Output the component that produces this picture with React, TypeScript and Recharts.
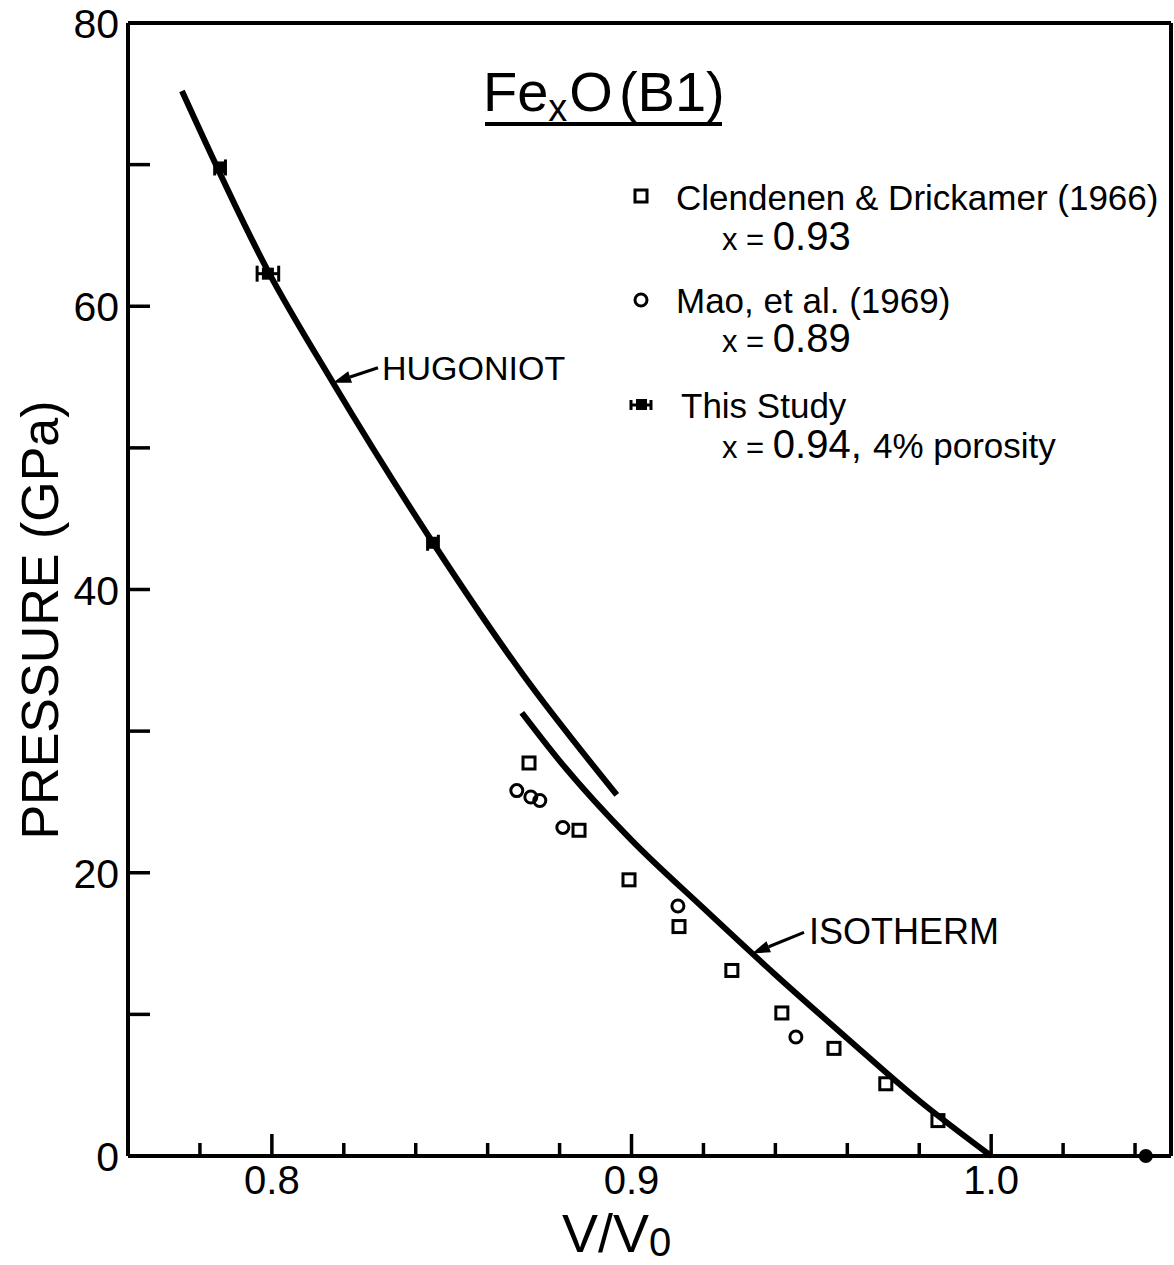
import {
  ComposedChart,
  Line,
  Scatter,
  XAxis,
  YAxis,
  ErrorBar,
  ReferenceDot,
  Customized
} from "recharts";

const FONT = "'Liberation Sans', Arial, sans-serif";

// axis ticks
const xTicks = [0.76, 0.78, 0.8, 0.82, 0.84, 0.86, 0.88, 0.9, 0.92, 0.94, 0.96, 0.98, 1.0, 1.02, 1.04];
const xLabeled = [0.8, 0.9, 1.0];
const yTicks = [0, 10, 20, 30, 40, 50, 60, 70, 80];
const yLabeled = [0, 20, 40, 60, 80];

// Hugoniot curve (V/V0, GPa)
const hugoniotV = [0.775, 0.7989, 0.817, 0.8448, 0.8698, 0.8959];
const hugoniotP = [75.2, 62.5, 54.6, 43.3, 34.0, 25.5];

// isotherm
const isothermV = [0.8695, 0.88, 0.9, 0.92, 0.94, 0.96, 0.98, 1.0];
const isothermP = [31.3, 27.9, 22.3, 17.5, 12.8, 8.3, 3.9, 0];

// Clendenen & Drickamer (1966)
const clendenenV = [0.8715, 0.8854, 0.8993, 0.9132, 0.9279, 0.9418, 0.9563, 0.9707, 0.9852];
const clendenenP = [27.75, 23.0, 19.5, 16.2, 13.1, 10.1, 7.6, 5.1, 2.5];

// Mao, et al. (1969)
const maoV = [0.8681, 0.872, 0.8745, 0.8809, 0.9129, 0.9457];
const maoP = [25.8, 25.35, 25.1, 23.2, 17.65, 8.4];

// This study: shock points with V/V0 error, plus porous starting state
const studyV = [0.7856, 0.7989, 0.8448];
const studyP = [69.8, 62.3, 43.3];
const studyErr = [0.0015, 0.003, 0.0015];
const initialV = [1.043];
const initialP = [0];

// where the curve labels point
const hugoniotLabelAt = { v: 0.817, p: 54.6 };
const isothermLabelAt = { v: 0.9335, p: 14.3 };

const zip = (vs: number[], ps: number[]) => vs.map((v, i) => ({ v, p: ps[i] }));
const hugoniot = zip(hugoniotV, hugoniotP);
const isotherm = zip(isothermV, isothermP);
const clendenen = zip(clendenenV, clendenenP);
const mao = zip(maoV, maoP);
const study = studyV.map((v, i) => ({ v, p: studyP[i], err: studyErr[i] }));
const initial = zip(initialV, initialP);

const near = (a: number, list: number[]) => list.some((b) => Math.abs(a - b) < 1e-6);

const BottomTick = ({ x, y, payload }: any) => {
  const major = near(payload.value, xLabeled);
  return (
    <g>
      <line x1={x} x2={x} y1={y} y2={y - (major ? 22 : 13)} stroke="#000" strokeWidth={3.5} />
      {major && (
        <text x={x} y={y + 38} textAnchor="middle" fontSize={40} fontFamily={FONT} fill="#000">
          {payload.value.toFixed(1)}
        </text>
      )}
    </g>
  );
};

const TopTick = ({ x, y, payload }: any) => {
  const major = near(payload.value, xLabeled);
  return <line x1={x} x2={x} y1={y} y2={y + (major ? 22 : 13)} stroke="#000" strokeWidth={3.5} />;
};

const LeftTick = ({ x, y, payload }: any) => {
  const major = near(payload.value, yLabeled);
  return (
    <g>
      <line x1={x} x2={x + 22} y1={y} y2={y} stroke="#000" strokeWidth={3.5} />
      {major && (
        <text x={x - 9} y={y + 15} textAnchor="end" fontSize={41} fontFamily={FONT} fill="#000">
          {payload.value}
        </text>
      )}
    </g>
  );
};

const RightTick = ({ x, y }: any) => (
  <line x1={x} x2={x - 22} y1={y} y2={y} stroke="#000" strokeWidth={3.5} />
);

const OpenSquare = ({ cx, cy }: any) => (
  <rect x={cx - 6} y={cy - 6} width={12} height={12} fill="none" stroke="#000" strokeWidth={3} />
);
const OpenCircle = ({ cx, cy }: any) => (
  <circle cx={cx} cy={cy} r={6} fill="none" stroke="#000" strokeWidth={3} />
);
const FilledSquare = ({ cx, cy }: any) => (
  <rect x={cx - 6} y={cy - 6} width={12} height={12} fill="#000" />
);
const FilledDot = ({ cx, cy }: any) => <circle cx={cx} cy={cy} r={7} fill="#000" />;

// arrow from a label to a point on the curve
const Arrow = ({ cx, cy, label, tail, text, fontSize }: any) => {
  const [tx, ty] = [cx + tail[0], cy + tail[1]];
  const len = Math.hypot(tx - cx, ty - cy);
  const ux = (tx - cx) / len;
  const uy = (ty - cy) / len;
  const hl = 18;
  const hw = 6;
  const bx = cx + ux * hl;
  const by = cy + uy * hl;
  return (
    <g>
      <line x1={bx} y1={by} x2={tx} y2={ty} stroke="#000" strokeWidth={3} />
      <polygon
        points={`${cx},${cy} ${bx - uy * hw},${by + ux * hw} ${bx + uy * hw},${by - ux * hw}`}
        fill="#000"
      />
      <text x={cx + text[0]} y={cy + text[1]} fontSize={fontSize} fontFamily={FONT} fill="#000">
        {label}
      </text>
    </g>
  );
};

const Decorations = () => (
  <g fontFamily={FONT} fill="#000">
    {/* title */}
    <text x={483} y={111} fontSize={56}>
      Fe<tspan fontSize={38} dy={10}>x</tspan>
      <tspan fontSize={56} dy={-10} dx={2}>O</tspan>
      <tspan fontSize={56} dx={6}>(B1)</tspan>
    </text>
    <line x1={485} x2={722} y1={124} y2={124} stroke="#000" strokeWidth={4} />

    {/* legend */}
    <rect x={635} y={190} width={12} height={12} fill="none" stroke="#000" strokeWidth={3} />
    <text x={676} y={210} fontSize={35}>Clendenen &amp; Drickamer (1966)</text>
    <text x={722} y={250}>
      <tspan fontSize={31}>x = </tspan>
      <tspan fontSize={40}>0.93</tspan>
    </text>

    <circle cx={641} cy={300} r={6} fill="none" stroke="#000" strokeWidth={3} />
    <text x={676} y={313} fontSize={35}>Mao, et al. (1969)</text>
    <text x={722} y={352}>
      <tspan fontSize={31}>x = </tspan>
      <tspan fontSize={40}>0.89</tspan>
    </text>

    <line x1={630} x2={652} y1={405} y2={405} stroke="#000" strokeWidth={3} />
    <line x1={631} x2={631} y1={400} y2={410} stroke="#000" strokeWidth={3} />
    <line x1={651} x2={651} y1={400} y2={410} stroke="#000" strokeWidth={3} />
    <rect x={636} y={399} width={11} height={11} fill="#000" />
    <text x={681} y={418} fontSize={35}>This  Study</text>
    <text x={722} y={458}>
      <tspan fontSize={31}>x = </tspan>
      <tspan fontSize={40}>0.94, </tspan>
      <tspan fontSize={35}>4% porosity</tspan>
    </text>

    {/* axis titles */}
    <text
      x={40}
      y={620}
      fontSize={52}
      textAnchor="middle"
      dominantBaseline="central"
      transform="rotate(-90, 40, 620)"
    >
      PRESSURE (GPa)
    </text>
    <text x={562} y={1252} fontSize={54}>
      V/V<tspan fontSize={40} dy={4}>0</tspan>
    </text>
  </g>
);

export default function App() {
  const axisLine = { stroke: "#000", strokeWidth: 4 };
  return (
    <div style={{ position: "absolute", left: 0, top: 0, background: "#fff" }}>
      <ComposedChart
        width={1174}
        height={1265}
        margin={{ top: 22, right: 2, bottom: 69, left: 68 }}
      >
        <XAxis
          type="number"
          dataKey="v"
          domain={[0.76, 1.05]}
          ticks={xTicks}
          interval={0}
          height={40}
          tickSize={0}
          tickMargin={0}
          tickLine={false}
          axisLine={axisLine}
          tick={<BottomTick />}
        />
        <XAxis
          xAxisId="top"
          orientation="top"
          type="number"
          dataKey="v"
          domain={[0.76, 1.05]}
          ticks={xTicks}
          interval={0}
          height={1}
          tickSize={0}
          tickMargin={0}
          tickLine={false}
          axisLine={axisLine}
          tick={<TopTick />}
        />
        <YAxis
          type="number"
          domain={[0, 80]}
          ticks={yTicks}
          interval={0}
          width={60}
          tickSize={0}
          tickMargin={0}
          tickLine={false}
          axisLine={axisLine}
          tick={<LeftTick />}
        />
        <YAxis
          yAxisId="right"
          orientation="right"
          type="number"
          domain={[0, 80]}
          ticks={yTicks}
          interval={0}
          width={1}
          tickSize={0}
          tickMargin={0}
          tickLine={false}
          axisLine={axisLine}
          tick={<RightTick />}
        />

        <Line
          data={hugoniot}
          dataKey="p"
          type="monotone"
          stroke="#000"
          strokeWidth={6}
          dot={false}
          isAnimationActive={false}
        />
        <Line
          data={isotherm}
          dataKey="p"
          type="monotone"
          stroke="#000"
          strokeWidth={6}
          dot={false}
          isAnimationActive={false}
        />
        <Scatter name="Clendenen & Drickamer (1966)" data={clendenen} dataKey="p" shape={<OpenSquare />} isAnimationActive={false} />
        <Scatter name="Mao, et al. (1969)" data={mao} dataKey="p" shape={<OpenCircle />} isAnimationActive={false} />
        <Scatter name="This Study" data={study} dataKey="p" shape={<FilledSquare />} isAnimationActive={false}>
          <ErrorBar dataKey="err" direction="x" width={8} stroke="#000" strokeWidth={3} isAnimationActive={false} />
        </Scatter>
        <Scatter name="Initial state" data={initial} dataKey="p" shape={<FilledDot />} isAnimationActive={false} />

        <ReferenceDot
          x={hugoniotLabelAt.v}
          y={hugoniotLabelAt.p}
          shape={(p: any) => (
            <Arrow {...p} label="HUGONIOT" tail={[45, -15]} text={[49, -3]} fontSize={34} />
          )}
        />
        <ReferenceDot
          x={isothermLabelAt.v}
          y={isothermLabelAt.p}
          shape={(p: any) => (
            <Arrow {...p} label="ISOTHERM" tail={[52, -21]} text={[57, -9]} fontSize={36} />
          )}
        />

        <Customized component={<Decorations />} />
      </ComposedChart>
    </div>
  );
}
